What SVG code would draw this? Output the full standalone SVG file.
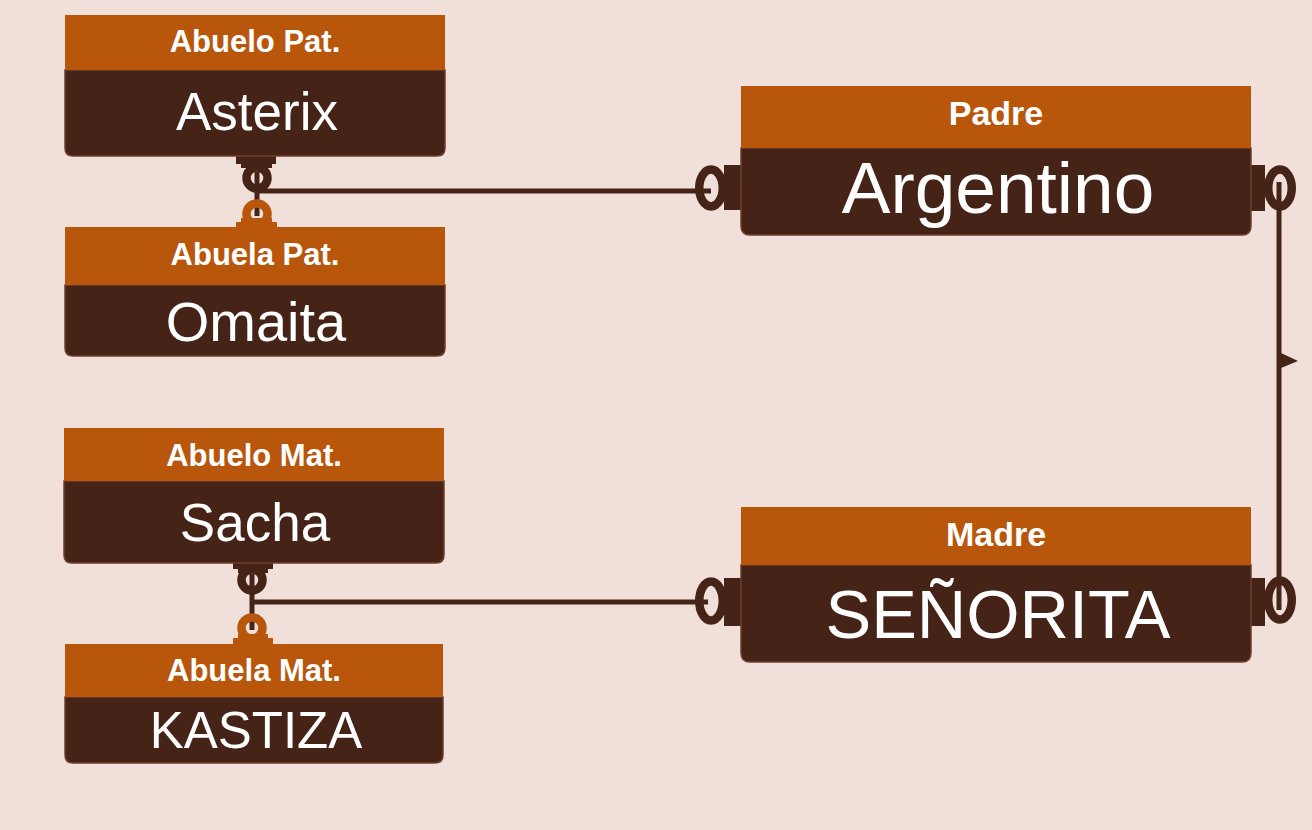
<svg xmlns="http://www.w3.org/2000/svg" width="1312" height="830" viewBox="0 0 1312 830">
<style>
.hd{fill:#B8560C}
.bd{fill:#452417;stroke:#6e3d2c;stroke-width:1.5}
.ht{font-family:"Liberation Sans",Arial,sans-serif;font-weight:bold;font-size:31px;fill:#fff;text-anchor:middle}
.nt{font-family:"Liberation Sans",Arial,sans-serif;font-size:53px;fill:#fff;text-anchor:middle}
.ln{stroke:#452417;stroke-width:5;fill:none}
.dk{fill:#452417}
.or{fill:#B8560C}
.rd{fill:none;stroke:#452417;stroke-width:8.5}
.ro{fill:none;stroke:#B8560C;stroke-width:8.5}
.re{fill:none;stroke:#452417;stroke-width:8.5}
</style>
<rect width="1312" height="830" fill="#F1E0DA"/>

<g id="connectors">
  <!-- Asterix / Omaita -> Argentino -->
  <path class="ln" d="M257 172 V216"/>
  <path class="ln" d="M257 191 H711"/>
  <!-- Sacha / Kastiza -> Señorita -->
  <path class="ln" d="M252 574 V630"/>
  <path class="ln" d="M252 602 H708"/>
  <!-- Argentino -> Señorita -->
  <path class="ln" d="M1279 182 V610"/>
  <polygon class="dk" points="1281,353 1298,361 1281,368"/>

  <!-- markers: Asterix bottom -->
  <circle class="rd" cx="257" cy="178" r="10.5"/>
  <rect class="dk" x="236" y="155" width="40" height="9"/>
  <rect class="dk" x="241" y="163" width="31" height="5"/>
  <!-- Omaita top -->
  <circle class="ro" cx="257" cy="214" r="10.5"/>
  <rect class="or" x="241" y="218" width="31" height="5"/>
  <rect class="or" x="236" y="222" width="41" height="6"/>
  <!-- Sacha bottom -->
  <circle class="rd" cx="252" cy="580" r="10.5"/>
  <rect class="dk" x="233" y="562" width="40" height="7"/>
  <rect class="dk" x="238" y="568" width="30" height="5"/>
  <!-- Kastiza top -->
  <circle class="ro" cx="252" cy="628" r="10.5"/>
  <rect class="or" x="238" y="634" width="30" height="5"/>
  <rect class="or" x="233" y="638" width="40" height="7"/>

  <!-- Argentino left / right -->
  <ellipse class="re" cx="711" cy="188" rx="11.75" ry="18.5"/>
  <rect class="dk" x="724" y="165" width="18" height="45"/>
  <ellipse class="re" cx="1280" cy="188" rx="11.75" ry="18.5"/>
  <rect class="dk" x="1250" y="165" width="15" height="46"/>
  <!-- Señorita left / right -->
  <ellipse class="re" cx="711" cy="601" rx="11.75" ry="19.5"/>
  <rect class="dk" x="724" y="578" width="18" height="48"/>
  <ellipse class="re" cx="1280" cy="600" rx="11.75" ry="19.5"/>
  <rect class="dk" x="1250" y="578" width="15" height="48"/>
</g>

<g id="abuelo-pat">
  <path class="bd" d="M65 70 H445 V148 Q445 156 437 156 H73 Q65 156 65 148 Z"/>
  <rect class="hd" x="65" y="15" width="380" height="55"/>
  <text class="ht" x="255" y="52">Abuelo Pat.</text>
  <text class="nt" x="257" y="130">Asterix</text>
</g>

<g id="abuela-pat">
  <path class="bd" d="M65 285 H445 V348 Q445 356 437 356 H73 Q65 356 65 348 Z"/>
  <rect class="hd" x="65" y="227" width="380" height="58"/>
  <text class="ht" x="255" y="265">Abuela Pat.</text>
  <text class="nt" x="256" y="341" style="font-size:56px">Omaita</text>
</g>

<g id="abuelo-mat">
  <path class="bd" d="M64 481 H444 V555 Q444 563 436 563 H72 Q64 563 64 555 Z"/>
  <rect class="hd" x="64" y="428" width="380" height="53"/>
  <text class="ht" x="254" y="466">Abuelo Mat.</text>
  <text class="nt" x="255" y="541">Sacha</text>
</g>

<g id="abuela-mat">
  <path class="bd" d="M65 697 H443 V755 Q443 763 435 763 H73 Q65 763 65 755 Z"/>
  <rect class="hd" x="65" y="644" width="378" height="53"/>
  <text class="ht" x="254" y="681">Abuela Mat.</text>
  <text class="nt" x="256" y="748" style="font-size:51px">KASTIZA</text>
</g>

<g id="padre">
  <path class="bd" d="M741 148 H1251 V226 Q1251 235 1242 235 H750 Q741 235 741 226 Z"/>
  <rect class="hd" x="741" y="86" width="510" height="62"/>
  <text class="ht" x="996" y="125" style="font-size:34px">Padre</text>
  <text class="nt" x="998" y="213" style="font-size:73px">Argentino</text>
</g>

<g id="madre">
  <path class="bd" d="M741 565 H1251 V653 Q1251 662 1242 662 H750 Q741 662 741 653 Z"/>
  <rect class="hd" x="741" y="507" width="510" height="58"/>
  <text class="ht" x="996" y="546" style="font-size:34px">Madre</text>
  <text class="nt" x="998" y="638" style="font-size:68.5px">SEÑORITA</text>
</g>
</svg>
